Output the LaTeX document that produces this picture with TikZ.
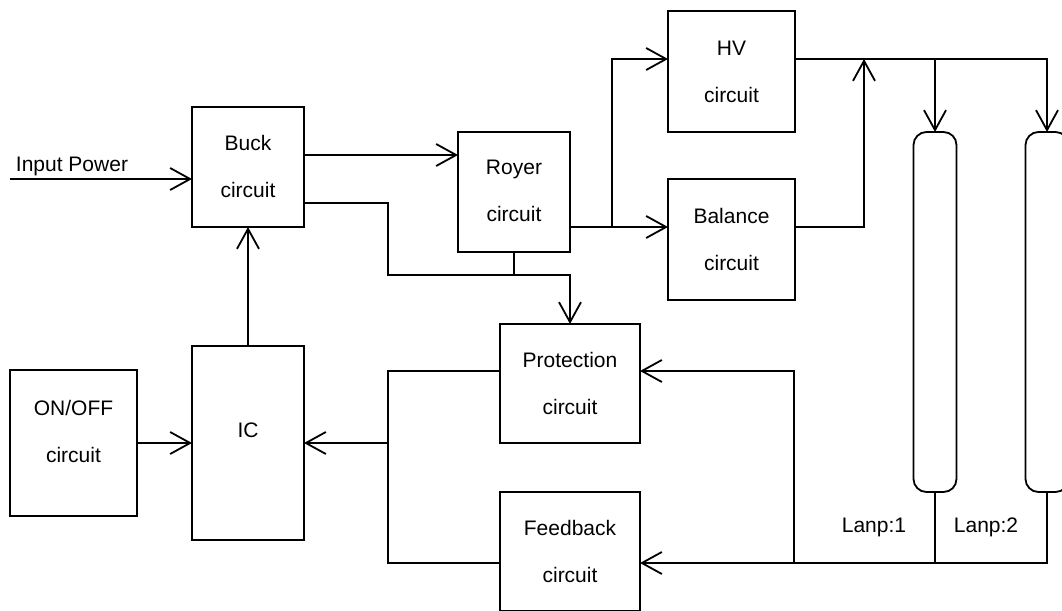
\documentclass[tikz,border=0pt]{standalone}
\usepackage{fontspec}
\setmainfont{Liberation Sans}
\usetikzlibrary{arrows.meta}
\begin{document}
\begin{tikzpicture}[x=1pt,y=-1pt,
  line width=1.8pt,
  every node/.style={font=\fontsize{21}{47}\selectfont},
  blk/.style={draw,rectangle,inner sep=0pt,outer sep=0pt},
  lampbox/.style={draw,rectangle,rounded corners=13pt,inner sep=0pt,outer sep=0pt,minimum width=43pt,minimum height=360pt},
  txt/.style={align=center,inner sep=0pt},
  arr/.style={-{Straight Barb[length=20pt,width=22pt,line width=1.8pt]}}]
\useasboundingbox (0,0) rectangle (1062,610);
\clip (0,0) rectangle (1062,610);
% boxes
\node[blk,minimum width=112pt,minimum height=120pt] (buck) at (248,167) {};
\node[blk,minimum width=112pt,minimum height=120pt] (royer) at (514,192) {};
\node[blk,minimum width=127pt,minimum height=121pt] (hv) at (731.5,71.5) {};
\node[blk,minimum width=127pt,minimum height=121pt] (bal) at (731.5,239.5) {};
\node[blk,minimum width=140pt,minimum height=119pt] (prot) at (570,383.5) {};
\node[blk,minimum width=140pt,minimum height=119pt] (fb) at (570,551.5) {};
\node[blk,minimum width=112pt,minimum height=194pt] (ic) at (248,443) {};
\node[blk,minimum width=127pt,minimum height=146pt] (onoff) at (73.5,443) {};
\node[lampbox] (lamp1) at (935,312) {};
\node[lampbox] (lamp2) at (1047,312) {};
% texts
\node[txt] (tbuck) at (248,166.5) {Buck\\circuit};
\node[txt] (troyer) at (514,191) {Royer\\circuit};
\node[txt] (thv) at (731.5,71.5) {HV\\circuit};
\node[txt] (tbal) at (731.5,239) {Balance\\circuit};
\node[txt] (tprot) at (570,383) {Protection\\circuit};
\node[txt] (tfb) at (570,551.5) {Feedback\\circuit};
\node[txt] (tonoff) at (73.5,431) {ON/OFF\\circuit};
\node[txt] (tic) at (248,430) {IC};
\node[txt] (tin) at (72,166) {Input Power};
\node[txt] (tl1) at (874,527) {Lanp:1};
\node[txt] (tl2) at (986,527) {Lanp:2};
% coordinates
\coordinate (in) at (10,179);
\coordinate (j1) at (612,227);
\coordinate (j2) at (864,59);
\coordinate (j3) at (794,563);
\coordinate (j4) at (388,443);
% connectors
\draw[arr] (in) -- (in -| buck.west);
\draw[arr] (buck.east |- 0,155) -- (royer.west |- 0,155);
\draw[arr] (buck.east |- 0,203) -| (388,275) -| (prot.north);
\draw (royer.south) -- (royer.south |- 0,275);
\draw[arr] (royer.east |- 0,227) -- (bal.west |- 0,227);
\draw[arr] (j1) |- (hv.west |- 0,59);
\draw[arr] (hv.east |- 0,59) -| (lamp2.north);
\draw[arr] (lamp1.north |- 0,59) -- (lamp1.north);
\draw[arr] (bal.east |- 0,227) -| (j2);
\draw[arr] (lamp2.south) |- (fb.east |- 0,563);
\draw (lamp1.south) -- (lamp1.south |- 0,563);
\draw[arr] (j3) |- (prot.east |- 0,371);
\draw (prot.west |- 0,371) -| (388,563) -- (fb.west |- 0,563);
\draw[arr] (j4) -- (ic.east |- j4);
\draw[arr] (onoff.east |- j4) -- (ic.west |- j4);
\draw[arr] (ic.north) -- (buck.south);
\end{tikzpicture}
\end{document}
